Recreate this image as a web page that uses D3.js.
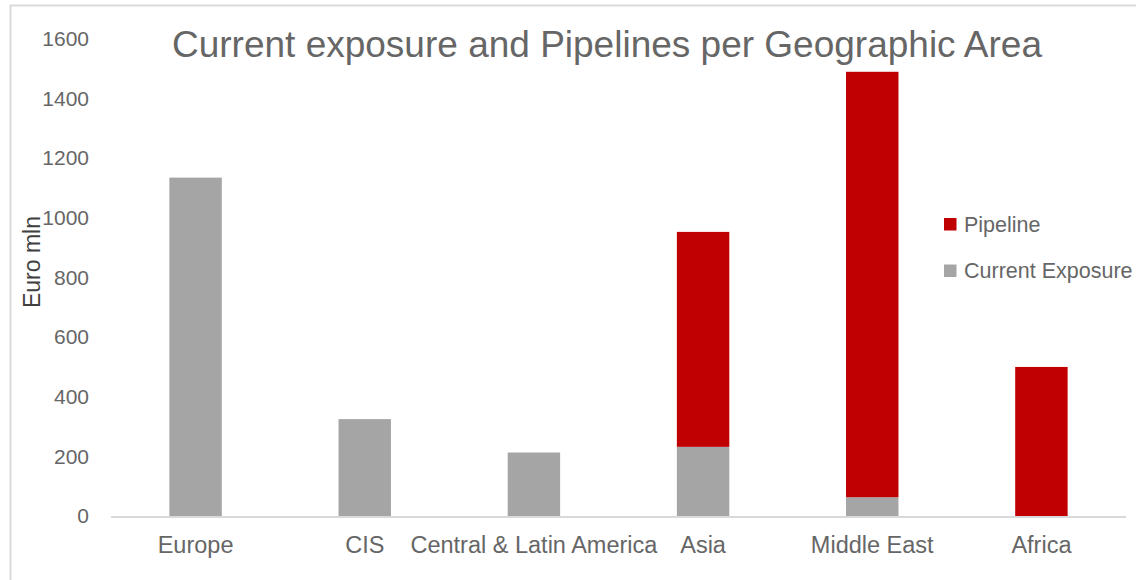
<!DOCTYPE html>
<html>
<head>
<meta charset="utf-8">
<script src="https://cdn.jsdelivr.net/npm/d3@7"></script>
<style>
  body { margin: 0; background: #fff; }
  svg text { font-family: "Liberation Sans", Arial, sans-serif; }
</style>
</head>
<body>
<div id="chart"></div>
<script>
var regions = ["Europe", "CIS", "Central & Latin America", "Asia", "Middle East", "Africa"];
var currentExposure = [1135, 325, 213, 232, 63, 0];
var pipeline = [0, 0, 0, 721, 1427, 500];
var yTicks = [0, 200, 400, 600, 800, 1000, 1200, 1400, 1600];
var seriesNames = ["Pipeline", "Current Exposure"];

var width = 1136, height = 580;
var padding = { top: 39, right: 10, bottom: 64, left: 111 };
var colors = { "Current Exposure": "#a5a5a5", "Pipeline": "#c00000" };
var textColor = "#666666";
var font = "'Liberation Sans', Arial, sans-serif";

var svg = d3.select("#chart")
    .append("svg")
    .attr("width", width)
    .attr("height", height);

// outer frame
svg.append("rect")
    .attr("x", 10.5).attr("y", 5.5)
    .attr("width", width + 10).attr("height", height + 10)
    .attr("fill", "none")
    .attr("stroke", "#d9d9d9")
    .attr("stroke-width", 2);

var xScale = d3.scaleBand()
    .domain(regions)
    .range([padding.left, 1126])
    .paddingInner(0.69)
    .paddingOuter(0.345);

var yScale = d3.scaleLinear()
    .domain([0, 1600])
    .range([516, padding.top]);

var data = regions.map(function(r, i) {
    return { region: r, "Current Exposure": currentExposure[i], "Pipeline": pipeline[i] };
});
var stacked = d3.stack().keys(["Current Exposure", "Pipeline"])(data);

svg.append("g")
    .selectAll("g")
    .data(stacked)
    .enter()
    .append("g")
    .attr("fill", function(d) { return colors[d.key]; })
    .selectAll("rect")
    .data(function(d) { return d; })
    .enter()
    .append("rect")
    .attr("x", function(d) { return xScale(d.data.region); })
    .attr("width", xScale.bandwidth())
    .attr("y", function(d) { return yScale(d[1]); })
    .attr("height", function(d) { return yScale(d[0]) - yScale(d[1]); });

// baseline
svg.append("line")
    .attr("x1", padding.left).attr("x2", 1126)
    .attr("y1", yScale(0) + 1).attr("y2", yScale(0) + 1)
    .attr("stroke", "#d9d9d9")
    .attr("stroke-width", 2);

// y axis labels
var yAxis = d3.axisLeft(yScale).tickValues(yTicks).tickFormat(d3.format("d")).tickSize(0).tickPadding(0);
var gy = svg.append("g")
    .attr("transform", "translate(89,0)")
    .call(yAxis);
gy.select(".domain").remove();
gy.selectAll("text")
    .attr("font-size", 21)
    .attr("fill", textColor)
    .style("font-family", font);

// x axis labels
var xAxis = d3.axisBottom(xScale).tickSize(0).tickPadding(0);
var gx = svg.append("g")
    .attr("transform", "translate(0,553)")
    .call(xAxis);
gx.select(".domain").remove();
gx.selectAll("text")
    .attr("y", 0)
    .attr("dy", 0)
    .attr("font-size", 23.5)
    .attr("fill", textColor)
    .style("font-family", font);

// title
svg.append("text")
    .attr("x", 607)
    .attr("y", 57)
    .attr("text-anchor", "middle")
    .attr("font-size", 37)
    .attr("fill", textColor)
    .text("Current exposure and Pipelines per Geographic Area");

// y title
svg.append("text")
    .attr("transform", "translate(40,262) rotate(-90)")
    .attr("text-anchor", "middle")
    .attr("font-size", 23)
    .attr("fill", "#404040")
    .text("Euro mln");

// legend
var legend = svg.append("g")
    .selectAll("g")
    .data(seriesNames)
    .enter()
    .append("g")
    .attr("transform", function(d, i) { return "translate(944," + (218 + i * 46.5) + ")"; });
legend.append("rect")
    .attr("width", 12.5).attr("height", 12.5)
    .attr("fill", function(d) { return colors[d]; });
legend.append("text")
    .attr("x", 20).attr("y", 13.5)
    .attr("font-size", 21.5)
    .attr("fill", textColor)
    .text(function(d) { return d; });
</script>
</body>
</html>
